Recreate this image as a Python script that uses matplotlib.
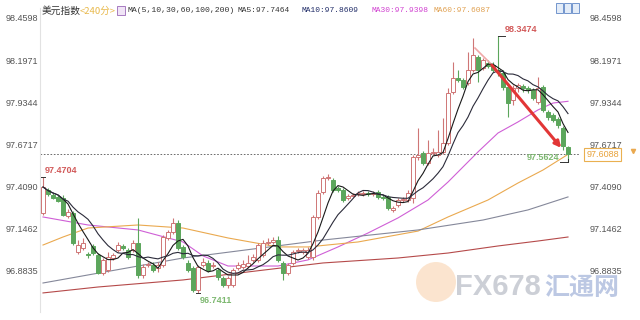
import numpy as np
import pandas as pd
import matplotlib
matplotlib.use('Agg')
import matplotlib.pyplot as plt
from matplotlib.patches import Rectangle, Circle

plt.rcParams['font.family'] = ['Liberation Sans', 'Noto Sans CJK SC']

# 美元指数 240分 K线
opens = [97.243, 97.386, 97.355, 97.343, 97.337, 97.224, 97.243, 97.000, 97.025, 96.987,
         97.037, 96.981, 96.868, 96.887, 96.962, 97.012, 97.037, 97.012, 97.012, 97.056,
         96.856, 96.918, 96.918, 96.900, 96.918, 97.087, 97.124, 97.181, 97.031, 96.931,
         96.900, 96.762, 96.918, 96.931, 96.912, 96.887, 96.837, 96.794, 96.794, 96.900,
         96.906, 96.912, 96.950, 96.950, 96.981, 97.056, 97.062, 97.074, 96.931, 96.868,
         96.931, 97.006, 97.000, 96.968, 96.968, 97.218, 97.374, 97.461, 97.449, 97.399,
         97.386, 97.337, 97.349, 97.361, 97.361, 97.368, 97.361, 97.374, 97.343, 97.343,
         97.262, 97.293, 97.324, 97.324, 97.337, 97.592, 97.617, 97.555, 97.617, 97.605,
         97.624, 97.680, 97.998, 98.085, 98.073, 98.054, 98.135, 98.216, 98.148, 98.179,
         98.166, 98.135, 98.117, 98.029, 97.948, 98.023, 98.035, 98.023, 98.010, 97.936,
         98.029, 97.873, 97.854, 97.829, 97.773, 97.655]
highs = [97.4704, 97.399, 97.368, 97.355, 97.355, 97.268, 97.255, 97.074, 97.087, 97.000,
         97.049, 96.993, 96.962, 97.000, 96.993, 97.062, 97.049, 97.025, 97.074, 97.212,
         96.925, 96.937, 96.937, 96.937, 97.106, 97.137, 97.212, 97.199, 97.043, 96.950,
         96.912, 96.918, 96.962, 96.950, 96.937, 96.900, 96.850, 96.850, 96.900, 96.937,
         96.950, 96.981, 96.987, 97.056, 97.074, 97.087, 97.093, 97.099, 96.943, 96.931,
         97.012, 97.025, 97.025, 97.031, 97.230, 97.386, 97.474, 97.486, 97.461, 97.411,
         97.399, 97.361, 97.368, 97.380, 97.380, 97.380, 97.380, 97.386, 97.355, 97.355,
         97.287, 97.337, 97.343, 97.386, 97.605, 97.773, 97.630, 97.698, 97.649, 97.761,
         97.836, 98.023, 98.185, 98.135, 98.085, 98.248, 98.335, 98.229, 98.210, 98.198,
         98.185, 98.3474, 98.135, 98.042, 98.042, 98.054, 98.048, 98.035, 98.023, 98.092,
         98.042, 97.886, 97.867, 97.842, 97.786, 97.661]
lows = [97.230, 97.349, 97.330, 97.312, 97.224, 97.212, 97.043, 96.987, 97.012, 96.962,
        96.981, 96.862, 96.856, 96.875, 96.950, 97.000, 97.012, 96.956, 97.000, 96.837,
        96.837, 96.906, 96.875, 96.875, 96.906, 97.074, 97.112, 97.012, 96.956, 96.875,
        96.750, 96.7411, 96.906, 96.875, 96.900, 96.825, 96.781, 96.775, 96.781, 96.887,
        96.893, 96.900, 96.937, 96.937, 96.968, 97.043, 97.049, 96.937, 96.825, 96.856,
        96.918, 96.993, 96.987, 96.956, 96.950, 97.205, 97.361, 97.449, 97.374, 97.374,
        97.312, 97.324, 97.343, 97.349, 97.349, 97.349, 97.349, 97.330, 97.324, 97.262,
        97.249, 97.280, 97.312, 97.312, 97.305, 97.574, 97.542, 97.542, 97.605, 97.592,
        97.611, 97.667, 97.985, 98.060, 98.017, 98.042, 98.123, 98.060, 98.135, 98.148,
        98.123, 98.098, 98.010, 97.842, 97.917, 97.998, 97.998, 97.992, 97.948, 97.923,
        97.873, 97.823, 97.811, 97.773, 97.636, 97.5624]
closes = [97.405, 97.361, 97.337, 97.318, 97.230, 97.249, 97.056, 97.043, 97.056, 96.981,
          96.993, 96.868, 96.950, 96.968, 96.981, 97.043, 97.025, 96.968, 97.056, 96.856,
          96.906, 96.925, 96.887, 96.918, 97.093, 97.124, 97.181, 97.025, 96.968, 96.887,
          96.762, 96.906, 96.937, 96.887, 96.918, 96.844, 96.794, 96.837, 96.887, 96.918,
          96.925, 96.931, 96.968, 97.043, 97.056, 97.062, 97.074, 96.950, 96.868, 96.918,
          97.000, 97.012, 97.012, 97.012, 97.218, 97.368, 97.461, 97.468, 97.386, 97.386,
          97.324, 97.349, 97.355, 97.368, 97.368, 97.361, 97.368, 97.343, 97.337, 97.274,
          97.274, 97.324, 97.330, 97.368, 97.592, 97.605, 97.555, 97.617, 97.624, 97.624,
          97.680, 97.992, 98.085, 98.073, 98.029, 98.135, 98.229, 98.135, 98.198, 98.160,
          98.135, 98.123, 98.029, 97.929, 98.023, 98.042, 98.023, 98.010, 97.961, 98.023,
          97.886, 97.842, 97.823, 97.792, 97.661, 97.6088]

# 长周期均线 (K线序号, 数值) 读图
ma30_x = [0, 9, 19, 28, 32, 37, 47, 53, 59, 65, 71, 77, 81, 87, 91, 95, 99, 102, 105]
ma30_y = [97.218, 97.168, 97.137, 97.062, 96.975, 96.912, 96.912, 96.950, 97.031, 97.118,
          97.212, 97.324, 97.436, 97.624, 97.742, 97.811, 97.886, 97.929, 97.9398]
ma60_x = [0, 4, 9, 19, 28, 37, 47, 53, 63, 75, 81, 89, 95, 100, 105]
ma60_y = [97.043, 97.093, 97.149, 97.168, 97.149, 97.087, 97.031, 97.031, 97.062, 97.130,
          97.218, 97.324, 97.430, 97.511, 97.6087]
ma100_x = [0, 28, 56, 75, 88, 97, 105]
ma100_y = [96.806, 96.962, 97.074, 97.137, 97.199, 97.262, 97.343]
ma200_x = [0, 11, 28, 41, 56, 71, 81, 91, 99, 105]
ma200_y = [96.744, 96.781, 96.825, 96.875, 96.931, 96.962, 96.993, 97.037, 97.068, 97.093]

yticks = [96.8835, 97.1462, 97.4090, 97.6717, 97.9344, 98.1971, 98.4598]
last_price = 97.6088
arrow_start = (89.4, 98.179)
arrow_tail = (86.4, 98.272)
arrow_end = (104.0, 97.636)

RED = '#cf7676'
GREEN = '#5ca65c'

fig = plt.figure(figsize=(6.4, 3.2), dpi=100)
ax = fig.add_axes([40 / 640, 8 / 320, 540 / 640, 304 / 320])

x = np.arange(len(closes))
o, h, l, c = (np.array(a) for a in (opens, highs, lows, closes))
up = c >= o
col = np.where(up, RED, GREEN)
ax.vlines(x, l, h, colors=col, lw=0.8, zorder=2)
ax.bar(x, np.maximum(np.abs(c - o), 0.004), bottom=np.minimum(o, c), width=0.68,
       color=np.where(up, 'white', GREEN), edgecolor=col, linewidth=0.7, zorder=3)

s = pd.Series(closes)
ax.plot(x, s.rolling(5, min_periods=1).mean(), color='#1a1a1a', lw=0.8, zorder=4)
ax.plot(x, s.rolling(10, min_periods=1).mean(), color='#2b2b3a', lw=0.8, zorder=4)
ax.plot(ma30_x, ma30_y, color='#cf5fd6', lw=0.8, zorder=1)
ax.plot(ma60_x, ma60_y, color='#eaa94f', lw=0.8, zorder=1)
ax.plot(ma100_x, ma100_y, color='#85889a', lw=0.8, zorder=1)
ax.plot(ma200_x, ma200_y, color='#b54a4a', lw=0.8, zorder=1)

# 当前价虚线
ax.axhline(last_price, color='#555555', lw=0.6, ls=(0, (2, 2)), zorder=1)
ax.text(1.012, last_price, '97.6088', transform=ax.get_yaxis_transform(), ha='left', va='center',
        fontsize=6.5, color='#e8a23a',
        bbox=dict(boxstyle='square,pad=0.25', fc='white', ec='#eab050', lw=0.8))
ax.plot([1.098], [last_price + 0.02], marker='v', ms=3, color='#eaa94f',
        transform=ax.get_yaxis_transform(), clip_on=False)

# 红色箭头
ax.plot([arrow_tail[0], arrow_start[0]], [arrow_tail[1], arrow_start[1]], color='#f0a8a8', lw=1.2, zorder=5)
ax.annotate('', xy=arrow_end, xytext=arrow_start,
            arrowprops=dict(arrowstyle='-|>', color='#e23636', lw=2.2, mutation_scale=9), zorder=5)

# 高低点标注
i0, ilo, ihi, ilast = 0, int(np.argmin(l)), int(np.argmax(h)), len(closes) - 1
ax.plot([i0 - 0.4, i0 + 0.4], [highs[i0]] * 2, color='#333', lw=0.7, zorder=5)
ax.text(i0 + 0.4, highs[i0] + 0.035, '97.4704', color='#d25a5a', fontsize=6.5, fontweight='bold', va='center')
ax.plot([ilo - 0.4, ilo + 0.4], [lows[ilo]] * 2, color='#333', lw=0.7, zorder=5)
ax.text(ilo + 0.3, lows[ilo] - 0.042, '96.7411', color='#7db870', fontsize=6.5, fontweight='bold', va='center')
ax.plot([ihi, ihi + 1.4], [highs[ihi]] * 2, color='#333', lw=0.7, zorder=5)
ax.text(ihi + 1.3, highs[ihi] + 0.04, '98.3474', color='#d25a5a', fontsize=6.5, fontweight='bold', va='center')
ax.plot([ilast - 1.6, ilast], [lows[ilast]] * 2, color='#333', lw=0.7, zorder=5)
ax.plot([ilast, ilast], [lows[ilast], lows[ilast] + 0.02], color='#333', lw=0.7, zorder=5)
ax.text(ilast - 1.8, lows[ilast] + 0.027, '97.5624', color='#7db870', fontsize=6.5, fontweight='bold',
        va='center', ha='right')

ax.set_xlim(-0.6, 107.4)
ax.set_ylim(96.625, 98.522)
ax.set_xticks([])
ax.set_yticks(yticks)
ax.set_yticklabels([f'{v:.4f}' for v in yticks])
ax.tick_params(axis='y', length=0, labelsize=6.5, labelcolor='#555555', pad=1.5,
               labelleft=True, labelright=True)
for sp in ['top', 'bottom', 'right']:
    ax.spines[sp].set_visible(False)
ax.spines['left'].set_color('#e2e2e2')
ax.spines['left'].set_linewidth(0.8)
# 右侧刻度标签偏移
offset = matplotlib.transforms.ScaledTranslation(8 / 100, 0, fig.dpi_scale_trans)
for t in ax.yaxis.get_major_ticks():
    t.label2.set_horizontalalignment('left')
    t.label2.set_transform(t.label2.get_transform() + offset)

# 顶部图例文字
ty = 1 - 11 / 320
fig.text(42 / 640, ty, '美元指数', fontsize=7, color='#333333', va='center', family='Noto Sans CJK SC')
fig.text(80 / 640, ty, '<240分>', fontsize=6.8, color='#e8b84a', va='center', family='Noto Sans CJK SC')
fig.patches.append(Rectangle((117 / 640, 1 - 15 / 320), 8 / 640, 9 / 320, transform=fig.transFigure,
                             fc='#f0e4f6', ec='#9a68b8', lw=0.6))
mono = 'Liberation Mono'
fig.text(128 / 640, ty, 'MA(5,10,30,60,100,200)', fontsize=5.9, color='#333333', va='center', family=mono)
fig.text(237 / 640, ty, 'MA5:97.7464', fontsize=5.7, color='#333333', va='center', family=mono)
fig.text(301 / 640, ty, 'MA10:97.8609', fontsize=5.7, color='#1e2a66', va='center', family=mono)
fig.text(372 / 640, ty, 'MA30:97.9398', fontsize=5.7, color='#d040d0', va='center', family=mono)
fig.text(433 / 640, ty, 'MA60:97.6087', fontsize=5.7, color='#e0a050', va='center', family=mono)
for k in range(3):
    fig.patches.append(Rectangle(((556 + 8 * k) / 640, 1 - 13 / 320), 7 / 640, 10 / 320,
                                 transform=fig.transFigure, fc='#e3ecf8', ec='#5f86c6', lw=0.6))

# 水印
fig.patches.append(Circle((4.36, 0.38), 0.2, transform=fig.dpi_scale_trans, fc='#f4a861', alpha=0.3, ec='none'))
fig.text(455 / 640, 1 - 287 / 320, 'FX678', fontsize=21, fontweight='bold', color='#9aa0ae', alpha=0.5,
         va='center')
fig.text(544 / 640, 1 - 288 / 320, '汇通网', fontsize=18, fontweight='bold', color='#7b92c8', alpha=0.5,
         va='center', family='Noto Sans CJK SC')

fig.savefig('out.png', dpi=100)
